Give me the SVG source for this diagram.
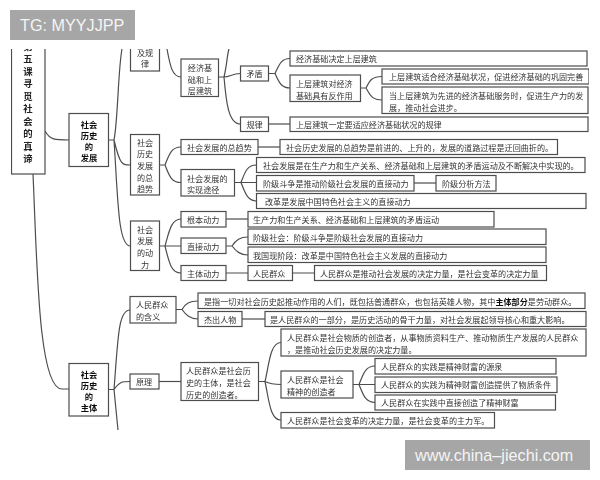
<svg xmlns="http://www.w3.org/2000/svg" width="600" height="480" viewBox="0 0 600 480">
<style>
rect.b{fill:#fff;stroke:#4d4d4d;stroke-width:1.200}
text{font-family:"Noto Sans CJK SC","Liberation Sans",sans-serif;font-size:8.1px;fill:#333;dominant-baseline:central}
text.c{text-anchor:middle}
text.h{font-size:8.300px;font-weight:700;fill:#111;text-anchor:middle}
text.t{font-size:9.400px;font-weight:700;fill:#222;text-anchor:middle}
#links path{fill:none;stroke:#4d4d4d;stroke-width:1.200}
.wm{fill:#a6a6a6}
.wt{font-family:"Liberation Sans",sans-serif;font-size:16.200px;fill:#f4f4f4;dominant-baseline:auto}
</style>
<defs>
<clipPath id="area"><rect x="0" y="49" width="600" height="381"/></clipPath>
<filter id="soft" x="0" y="0" width="100%" height="100%"><feGaussianBlur stdDeviation="0.300"/></filter>
</defs>
<rect width="600" height="480" fill="#fff"/>
<g clip-path="url(#area)"><g filter="url(#soft)">
<g id="links">
<path d="M33 174C37 260 38 389 62 389H69"/>
<path d="M45 131C50 140 55 140 69 140"/>
<path d="M108.500 140H114M114 140C118 120 118 70 122 49M114 140C120 165 122 165 130.500 165M114 140C118 200 118 246 130.500 246"/>
<path d="M108.500 389.500H114M114 389.500C118 340 118 310 130 310M114 389.500C120 381.500 122 381.500 130 381.500M114 389.500L118 430"/>
<path d="M159 381.500H181"/>
<path d="M167 49C170 65 172 77 181 77"/>
<path d="M218.500 77H224M224 77C227 65 227 55 229 49M224 77C230 77 232 73.500 240.500 73.500M224 77C226 100 228 124 240.500 124"/>
<path d="M268.500 73.500H275M275 73.500C279 65 281 58.500 290 58.500M275 73.500C279 82 281 88 290 88"/>
<path d="M268.500 124H290"/>
<path d="M360.500 88H366M366 88C370 80 372 76.500 382 76.500M366 88C370 95 372 100 382 100"/>
<path d="M159.500 165H165M165 165C169 155 171 147 181 147M165 165C169 175 171 182.500 181 182.500"/>
<path d="M258 147H280"/>
<path d="M234.500 182.500H241M241 182.500C245 172 247 165 256.500 165M241 182.500H256.500M241 182.500C245 192 247 201 256.500 201"/>
<path d="M414 183H436"/>
<path d="M159.500 246H165M165 246C169 232 171 219 181 219M165 246H181M165 246C169 262 171 273 181 273"/>
<path d="M226 219H248"/>
<path d="M226 246H232M232 246C236 240 240 237 248 237M232 246C236 251 240 255 248 255"/>
<path d="M226 273H248M292.500 273H314.500"/>
<path d="M176 309.500H182M182 309.500C186 303 190 301 198 301M182 309.500C186 315 190 319 198 319"/>
<path d="M242 319H265"/>
<path d="M258.500 381.500H265M265 381.500C269 365 270 342.500 281 342.500M265 381.500C270 384 275 384.500 281 384.500M265 381.500C269 400 270 420 281 420"/>
<path d="M353 384.500H359M359 384.500C363 375 365 366 375 366M359 384.500H375M359 384.500C363 394 365 402.500 375 402.500"/>
</g>
<g id="title"><rect class="b" x="11.500" y="30" width="33.500" height="144"/><text class="t"><tspan x="28" y="45.500">第</tspan><tspan x="28" y="58">五</tspan><tspan x="28" y="70.500">课</tspan><tspan x="28" y="83">寻</tspan><tspan x="28" y="95.500">觅</tspan><tspan x="28" y="108">社</tspan><tspan x="28" y="120.500">会</tspan><tspan x="28" y="133">的</tspan><tspan x="28" y="145.500">真</tspan><tspan x="28" y="158">谛</tspan></text></g>
<g id="n-dev"><rect class="b" x="69" y="113.500" width="39.500" height="53"/><text class="h"><tspan x="89" y="123.500">社会</tspan><tspan x="89" y="134.500">历史</tspan><tspan x="89" y="145.500">的</tspan><tspan x="89" y="156.500">发展</tspan></text></g>
<g id="n-law"><rect class="b" x="130.500" y="30" width="29" height="41"/><text class="c" x="145" y="52">及规</text><text class="c" x="145" y="63">律</text></g>
<g id="n-base"><rect class="b" x="181" y="59" width="37.500" height="37.500"/><text class="c" x="200" y="67">经济基</text><text class="c" x="200" y="79">础和上</text><text class="c" x="200" y="90">层建筑</text></g>
<g id="n-con"><rect class="b" x="240.500" y="66" width="28" height="15"/><text class="c" x="254.500" y="73.500">矛盾</text></g>
<g id="n-rule"><rect class="b" x="240.500" y="117" width="28" height="14.500"/><text class="c" x="254.500" y="124">规律</text></g>
<g id="n1"><rect class="b" x="290" y="51" width="297" height="15"/><text x="296" y="58.500">经济基础决定上层建筑</text></g>
<g id="n2"><rect class="b" x="290" y="75" width="70.500" height="26.500"/><text x="296" y="83">上层建筑对经济</text><text x="296" y="95">基础具有反作用</text></g>
<g id="n3"><rect class="b" x="382" y="69" width="207" height="15"/><text x="389" y="76.500">上层建筑适合经济基础状况，促进经济基础的巩固完善</text></g>
<g id="n4"><rect class="b" x="382" y="87" width="206" height="26.500"/><text x="389" y="95">当上层建筑为先进的经济基础服务时，促进生产力的发</text><text x="389" y="107">展，推动社会进步。</text></g>
<g id="n5"><rect class="b" x="290" y="117" width="298" height="14.500"/><text x="296" y="124">上层建筑一定要适应经济基础状况的规律</text></g>
<g id="n-trend"><rect class="b" x="130.500" y="134.500" width="29" height="60.500"/><text class="c" x="145" y="142">社会</text><text class="c" x="145" y="153">历史</text><text class="c" x="145" y="165">发展</text><text class="c" x="145" y="177">的总</text><text class="c" x="145" y="188">趋势</text></g>
<g id="n6"><rect class="b" x="181" y="139.500" width="77" height="15"/><text x="187" y="147">社会发展的总趋势</text></g>
<g id="n7"><rect class="b" x="280" y="139.500" width="277.500" height="15"/><text x="286" y="147">社会历史发展的总趋势是前进的、上升的，发展的道路过程是迂回曲折的。</text></g>
<g id="n8"><rect class="b" x="181" y="169.500" width="53.500" height="26.500"/><text x="187" y="178">社会发展的</text><text x="187" y="189">实现途径</text></g>
<g id="n9"><rect class="b" x="256.500" y="157.500" width="328.500" height="15"/><text x="263" y="165">社会发展是在生产力和生产关系、经济基础和上层建筑的矛盾运动及不断解决中实现的。</text></g>
<g id="n10"><rect class="b" x="256.500" y="175.500" width="157.500" height="15.500"/><text x="263" y="183">阶级斗争是推动阶级社会发展的直接动力</text></g>
<g id="n11"><rect class="b" x="436" y="175.500" width="60" height="15.500"/><text x="442" y="183">阶级分析方法</text></g>
<g id="n12"><rect class="b" x="256.500" y="193.500" width="329.500" height="15"/><text x="265" y="201">改革是发展中国特色社会主义的直接动力</text></g>
<g id="n-force"><rect class="b" x="130.500" y="221" width="29" height="49.500"/><text class="c" x="145" y="229">社会</text><text class="c" x="145" y="240.500">发展</text><text class="c" x="145" y="252">的动</text><text class="c" x="145" y="264">力</text></g>
<g id="n13"><rect class="b" x="181" y="211.500" width="45" height="15.500"/><text x="187" y="219">根本动力</text></g>
<g id="n14"><rect class="b" x="248" y="211.500" width="246" height="15.500"/><text x="253" y="219">生产力和生产关系、经济基础和上层建筑的矛盾运动</text></g>
<g id="n15"><rect class="b" x="181" y="238" width="45" height="15.500"/><text x="187" y="246">直接动力</text></g>
<g id="n16"><rect class="b" x="248" y="229" width="298" height="15.500"/><text x="253" y="237">阶级社会：阶级斗争是阶级社会发展的直接动力</text></g>
<g id="n17"><rect class="b" x="248" y="247" width="298" height="15.500"/><text x="253" y="255">我国现阶段：改革是中国特色社会主义发展的直接动力</text></g>
<g id="n18"><rect class="b" x="181" y="265.500" width="45" height="15"/><text x="187" y="273">主体动力</text></g>
<g id="n19"><rect class="b" x="248" y="265.500" width="44.500" height="15"/><text x="253" y="273">人民群众</text></g>
<g id="n20"><rect class="b" x="314.500" y="265.500" width="232" height="15"/><text x="320" y="273">人民群众是推动社会发展的决定力量，是社会变革的决定力量</text></g>
<g id="n-subj"><rect class="b" x="69" y="363.500" width="39.500" height="52.500"/><text class="h"><tspan x="89" y="373.500">社会</tspan><tspan x="89" y="384.500">历史</tspan><tspan x="89" y="395.500">的</tspan><tspan x="89" y="406.500">主体</tspan></text></g>
<g id="n21"><rect class="b" x="130" y="296.500" width="46" height="26.500"/><text x="136" y="304">人民群众</text><text x="136" y="316">的含义</text></g>
<g id="n22"><rect class="b" x="198" y="293" width="387" height="15.500"/><text x="204" y="301">是指一切对社会历史起推动作用的人们，既包括普通群众，也包括英雄人物，其中<tspan font-weight="700" fill="#111">主体部分</tspan>是劳动群众。</text></g>
<g id="n23"><rect class="b" x="198" y="311.500" width="44" height="15"/><text x="204" y="319">杰出人物</text></g>
<g id="n24"><rect class="b" x="265" y="311.500" width="321" height="15"/><text x="270" y="319">是人民群众的一部分，是历史活动的骨干力量，对社会发展起领导核心和重大影响。</text></g>
<g id="n25"><rect class="b" x="130" y="374" width="29" height="15"/><text x="136" y="381.500">原理</text></g>
<g id="n26"><rect class="b" x="181" y="362.500" width="77.500" height="38"/><text x="186" y="370">人民群众是社会历</text><text x="186" y="382">史的主体，是社会</text><text x="186" y="394">历史的创造者。</text></g>
<g id="n27"><rect class="b" x="281" y="329" width="305" height="27"/><text x="287" y="337">人民群众是社会物质的创造者，从事物质资料生产、推动物质生产发展的人民群众</text><text x="287" y="349">，是推动社会历史发展的决定力量。</text></g>
<g id="n28"><rect class="b" x="281" y="371" width="72" height="27"/><text x="287" y="379">人民群众是社会</text><text x="287" y="391">精神的创造者</text></g>
<g id="n29"><rect class="b" x="375" y="358.500" width="181" height="15.500"/><text x="381" y="366">人民群众的实践是精神财富的源泉</text></g>
<g id="n30"><rect class="b" x="375" y="377" width="182" height="15.500"/><text x="381" y="384.500">人民群众的实践为精神财富创造提供了物质条件</text></g>
<g id="n31"><rect class="b" x="375" y="395" width="180.500" height="15"/><text x="381" y="402.500">人民群众在实践中直接创造了精神财富</text></g>
<g id="n32"><rect class="b" x="281" y="412.500" width="213.500" height="15.500"/><text x="287" y="420">人民群众是社会变革的决定力量，是社会变革的主力军。</text></g>
</g></g>
<g id="wm1"><rect class="wm" x="10" y="10" width="125" height="30"/><text class="wt" x="20" y="30.500">TG: MYYJJPP</text></g>
<g id="wm2"><rect class="wm" x="405" y="440" width="185" height="30"/><text class="wt" x="415" y="461">www.china–jiechi.com</text></g>
</svg>
